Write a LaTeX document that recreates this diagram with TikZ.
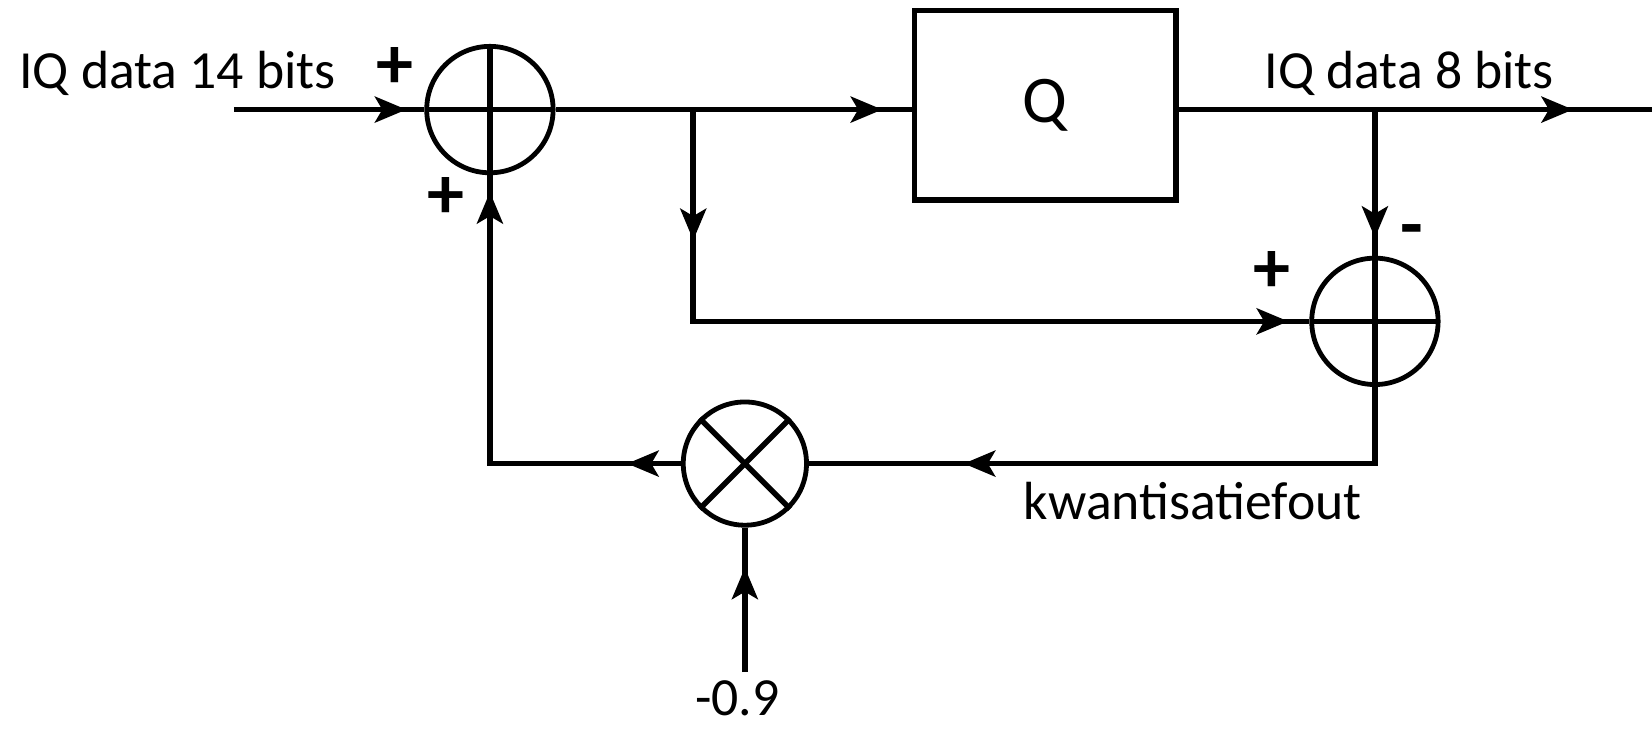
\documentclass[tikz,border=0pt]{standalone}
\usepackage{fontspec}
\setmainfont{Carlito}
\usetikzlibrary{arrows.meta,decorations.markings}
\begin{document}
\begin{tikzpicture}[x=0.02cm,y=-0.02cm,
  line/.style={line width=3pt},
  ar/.style={postaction={decorate,decoration={markings,mark=at position #1 with {\arrow{Stealth[length=17pt,width=14pt,inset=4pt]}}}}},
  sumnode/.style={circle,draw,line width=2.6pt,minimum size=2.4cm,inner sep=0pt,
    path picture={\draw[line width=3pt] (path picture bounding box.north)--(path picture bounding box.south)
      (path picture bounding box.west)--(path picture bounding box.east);}},
  multnode/.style={circle,draw,line width=2.6pt,minimum size=2.34cm,inner sep=0pt},
  qbox/.style={draw,line width=3pt,minimum width=4.96cm,minimum height=3.6cm,inner sep=0pt,font=\fontsize{36}{40}\selectfont},
  lbl/.style={inner sep=0pt,font=\fontsize{29}{34}\selectfont},
  sgn/.style={inner sep=0pt,font=\fontsize{40}{44}\selectfont\bfseries}
]
\useasboundingbox (0,0) rectangle (1568,691);
\coordinate (in) at (222,104);
\node[sumnode] (s1) at (465,104) {};
\node[qbox] (Q) at (992,100) {Q};
\coordinate (out) at (1568,104);
\coordinate (b1) at (658,104);
\coordinate (b2) at (1305,104);
\node[sumnode] (s2) at (1305,305) {};
\node[multnode] (m) at (707,440) {};
\draw[line width=3pt] (m.45) -- (m.225) (m.135) -- (m.315);
\coordinate (c5) at (707,638);
\node[lbl] (k) at (700,663) {-0.9};

\draw[line, ar=-0.34cm] (in) -- (s1.west);
\draw[line, ar=-0.56cm] (s1.east) -- (s1.east -| Q.west);
\draw[line, ar=-1.5cm] (s1.east -| Q.east) -- (out);
\draw[line, ar=2.48cm, ar=-0.4cm] (b1) |- (s2.west);
\draw[line, ar=-0.34cm] (b2) -- (s2.north);
\draw[line, ar=-2.94cm] (s2.south) |- (m.east);
\draw[line, ar=1.02cm, ar=-0.32cm] (m.west) -| (s1.south);
\draw[line, ar=-0.76cm] (c5) -- (m.south);

\node[lbl, anchor=base west] (t1) at (18,84) {IQ data 14 bits};
\node[lbl, anchor=base west] (t2) at (1200,84) {IQ data 8 bits};
\node[lbl] (t3) at (1132,476) {kwantisatiefout};
\node[sgn] (p1) at (375,65) {+};
\node[sgn] (p2) at (423,188) {+};
\node[sgn] (p3) at (1207,258) {+};
\node[sgn] (p4) at (1340,225) {-};
\end{tikzpicture}
\end{document}
